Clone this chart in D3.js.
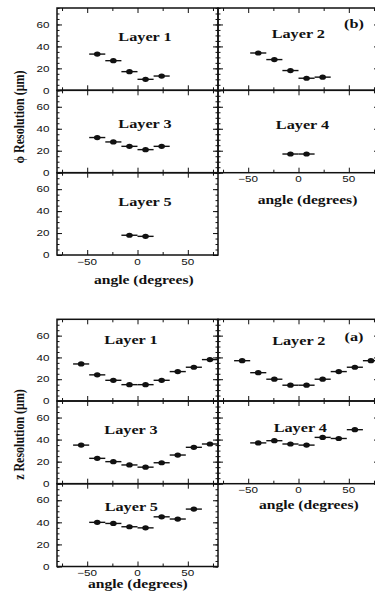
<!DOCTYPE html>
<html><head><meta charset="utf-8">
<script src="https://cdn.jsdelivr.net/npm/d3@7"></script>
<style>body{margin:0;background:#fff}svg{display:block}</style>
</head><body>
<script>
// ---- data ----
const phiAngles = [-40, -24, -8, 8, 24];
const phiAnglesShort = [-8, 8];
const zAngles = [-56, -40, -24, -8, 8, 24, 40, 56, 72];
const zAnglesShort = [-40, -24, -8, 8, 24, 40, 56];
const binHalfWidth = 8;

const phiLayer1 = [33, 27, 17, 10, 13];
const phiLayer2 = [34, 28, 18, 11, 12];
const phiLayer3 = [32, 28, 24, 21, 24];
const phiLayer4 = [17, 17];
const phiLayer5 = [18, 17];

const zLayer1 = [34, 24, 19, 15, 15, 19, 27, 31, 38];
const zLayer2 = [37, 26, 20, 14.5, 14.5, 20, 27, 31, 37];
const zLayer3 = [35, 23, 20, 17, 15, 19, 26, 33, 36];
const zLayer4 = [37, 39, 36, 35, 42, 41, 49];
const zLayer5 = [40, 39, 36, 35, 45, 43, 52];

const yTicks = [0, 20, 40, 60];
const yMinorTicks = d3.range(0, 76, 5);
const xTicks = [-50, 0, 50];
const xMinorTicks = [-75, -25, 25, 75];
const xDomain = [-80, 80];
const yDomain = [0, 75];

// ---- layout ----
const W = 375, H = 594;
const colX = [57, 218, 379];
const INK = "#111";
const SX = 1.3; // horizontal stretch of the scanned text

const svg = d3.select("body").append("svg").attr("width", W).attr("height", H);

function txt(x, y, s, o = {}) {
  const t = svg.append("text")
    .attr("transform", `translate(${x},${y}) scale(${SX},1)` + (o.rot ? ` rotate(${o.rot})` : ""))
    .attr("text-anchor", o.anchor || "middle")
    .attr("font-family", o.family || "'Liberation Serif', 'Times New Roman', serif")
    .attr("font-weight", o.weight || "bold")
    .attr("font-size", o.size || 12.5)
    .attr("fill", INK)
    .text(s);
  if (o.baseline) t.attr("dominant-baseline", o.baseline);
  return t;
}

function panel(x0, x1, y0, y1, angles, values, label, labelPos, opts = {}) {
  const x = d3.scaleLinear().domain(xDomain).range([x0, x1]);
  const y = d3.scaleLinear().domain(yDomain).range([y1, y0]);
  const g = svg.append("g");
  const tickStyle = sel => { sel.select(".domain").remove(); sel.selectAll("line").attr("stroke", INK).attr("stroke-width", 1); };
  // inward ticks on all four sides
  g.append("g").attr("transform", `translate(${x0},0)`).call(d3.axisLeft(y).tickValues(yTicks).tickSize(-5).tickFormat("")).call(tickStyle);
  g.append("g").attr("transform", `translate(${x0},0)`).call(d3.axisLeft(y).tickValues(yMinorTicks).tickSize(-2.5).tickFormat("")).call(tickStyle);
  g.append("g").attr("transform", `translate(${x1},0)`).call(d3.axisRight(y).tickValues(yTicks).tickSize(-5).tickFormat("")).call(tickStyle);
  g.append("g").attr("transform", `translate(${x1},0)`).call(d3.axisRight(y).tickValues(yMinorTicks).tickSize(-2.5).tickFormat("")).call(tickStyle);
  g.append("g").attr("transform", `translate(0,${y1})`).call(d3.axisBottom(x).tickValues(xTicks).tickSize(-5).tickFormat("")).call(tickStyle);
  g.append("g").attr("transform", `translate(0,${y1})`).call(d3.axisBottom(x).tickValues(xMinorTicks).tickSize(-3).tickFormat("")).call(tickStyle);
  g.append("g").attr("transform", `translate(0,${y0})`).call(d3.axisTop(x).tickValues(xTicks).tickSize(-5).tickFormat("")).call(tickStyle);
  g.append("g").attr("transform", `translate(0,${y0})`).call(d3.axisTop(x).tickValues(xMinorTicks).tickSize(-3).tickFormat("")).call(tickStyle);
  // frame
  g.append("rect").attr("x", x0).attr("y", y0).attr("width", x1 - x0).attr("height", y1 - y0)
    .attr("fill", "none").attr("stroke", INK).attr("stroke-width", 1.5);
  // data: horizontal bin bars + dots
  const pts = angles.map((a, i) => ({ a, v: values[i] }));
  g.selectAll(".bar").data(pts).enter().append("line")
    .attr("x1", d => x(d.a - binHalfWidth)).attr("x2", d => x(d.a + binHalfWidth))
    .attr("y1", d => y(d.v)).attr("y2", d => y(d.v))
    .attr("stroke", INK).attr("stroke-width", 1.4);
  g.selectAll(".dot").data(pts).enter().append("ellipse")
    .attr("cx", d => x(d.a)).attr("cy", d => y(d.v)).attr("rx", 3.3).attr("ry", 2.6).attr("fill", INK);
  // layer label
  txt(labelPos[0], labelPos[1], label);
  // y tick labels
  if (opts.yLabels) {
    yTicks.forEach(v => txt(x0 - 7.5, y(v) + 3.2, String(v),
      { anchor: "end", family: "'Liberation Sans', Arial, sans-serif", weight: "normal", size: 9 }));
  }
  if (opts.xLabels) {
    xTicks.forEach(v => txt(x(v), y1 + 9.6, (v < 0 ? "\u2212" : "") + Math.abs(v),
      { family: "'Liberation Sans', Arial, sans-serif", weight: "normal", size: 9 }));
    txt(opts.xTitleX, opts.xTitleY, "angle (degrees)", { size: 12 });
  }
  return g;
}

// ---- top figure (b): phi resolution ----
const topRows = [8, 90.3, 172.7, 255];
panel(colX[0], colX[1], topRows[0], topRows[1], phiAngles, phiLayer1, "Layer 1", [145, 40.5], { yLabels: true });
panel(colX[0], colX[1], topRows[1], topRows[2], phiAngles, phiLayer3, "Layer 3", [145, 127.7], { yLabels: true });
panel(colX[0], colX[1], topRows[2], topRows[3], phiAnglesShort, phiLayer5, "Layer 5", [145, 206], { yLabels: true, xLabels: true, xTitleX: 143.8, xTitleY: 283.5 });
panel(colX[1], colX[2], topRows[0], topRows[1], phiAngles, phiLayer2, "Layer 2", [298.3, 38.3]);
panel(colX[1], colX[2], topRows[1], topRows[2], phiAnglesShort, phiLayer4, "Layer 4", [302.5, 129.3], { xLabels: true, xTitleX: 307.5, xTitleY: 204 });
txt(354, 28.3, "(b)");
txt(18.5, 117, "\u03d5 Resolution (\u03bcm)", { rot: -90, size: 12, baseline: "central" });

// ---- bottom figure (a): z resolution ----
const botRows = [319.3, 401, 483.7, 566.5];
panel(colX[0], colX[1], botRows[0], botRows[1], zAngles, zLayer1, "Layer 1", [131, 344.3], { yLabels: true });
panel(colX[0], colX[1], botRows[1], botRows[2], zAngles, zLayer3, "Layer 3", [131, 434.3], { yLabels: true });
panel(colX[0], colX[1], botRows[2], botRows[3], zAnglesShort, zLayer5, "Layer 5", [131.3, 510.7], { yLabels: true, xLabels: true, xTitleX: 137.8, xTitleY: 588 });
panel(colX[1], colX[2], botRows[0], botRows[1], zAngles, zLayer2, "Layer 2", [298.8, 345]);
panel(colX[1], colX[2], botRows[1], botRows[2], zAnglesShort, zLayer4, "Layer 4", [300.3, 431.7], { xLabels: true, xTitleX: 308.8, xTitleY: 509 });
txt(354, 340.5, "(a)");
txt(18.5, 434.5, "z Resolution (\u03bcm)", { rot: -90, size: 12, baseline: "central" });
</script>
</body></html>
